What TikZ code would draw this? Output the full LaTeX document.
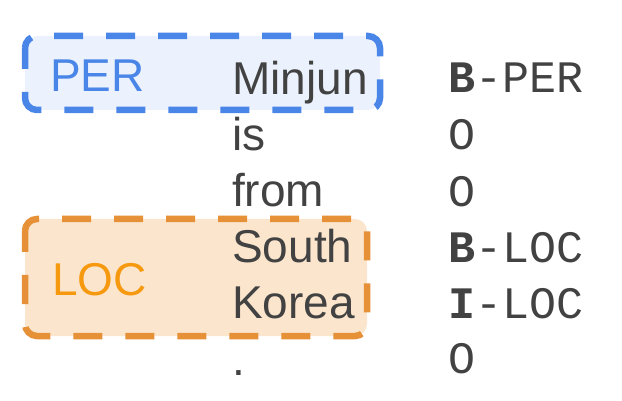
\documentclass[tikz,border=0pt]{standalone}
\usepackage{fontspec}
\setmainfont{Liberation Sans}
\setmonofont{Liberation Mono}
\definecolor{wordgray}{HTML}{424242}
\definecolor{perline}{HTML}{4A86E8}
\definecolor{perfill}{HTML}{EBF2FD}
\definecolor{pertext}{HTML}{4A86E8}
\definecolor{locline}{HTML}{E69138}
\definecolor{locfill}{HTML}{FCE5CD}
\definecolor{loctext}{HTML}{F6990F}
\tikzset{
	word/.style={anchor=base west, inner sep=0pt, text=wordgray, font=\fontsize{46}{56}\selectfont},
	tag/.style={anchor=base west, inner sep=0pt, text=wordgray, font=\fontsize{45}{56}\selectfont\ttfamily},
	spanbox/.style={line width=6.5pt, dash pattern=on 29pt off 23pt, dash phase=8pt, rounded corners=12pt},
}
\begin{document}
\begin{tikzpicture}[x=1pt, y=-1pt]
			\useasboundingbox (0, 0) rectangle (622, 401);
			
			\draw[spanbox, perline, fill=perfill] (25, 36) rectangle (380, 110);
			\node[word, text=pertext] (per) at (50, 92) {PER};
			
			\draw[spanbox, locline, fill=locfill] (25, 219) rectangle (367, 336);
			\node[word, text=loctext] (loc) at (52, 295) {LOC};
			
			\node[word] (w1) at (232, 95) {Minjun};
			\node[word] (w2) at (232, 151) {is};
			\node[word] (w3) at (232, 207) {from};
			\node[word] (w4) at (232, 263) {South};
			\node[word] (w5) at (232, 319) {Korea};
			\node[word] (w6) at (232, 375) {.};
			
			\node[tag] (t1) at (448, 93) {\textbf{B}-PER};
			\node[tag] (t2) at (448, 150) {O};
			\node[tag] (t3) at (448, 207) {O};
			\node[tag] (t4) at (448, 262) {\textbf{B}-LOC};
			\node[tag] (t5) at (448, 318) {\textbf{I}-LOC};
			\node[tag] (t6) at (448, 373) {O};
\end{tikzpicture}
\end{document}
